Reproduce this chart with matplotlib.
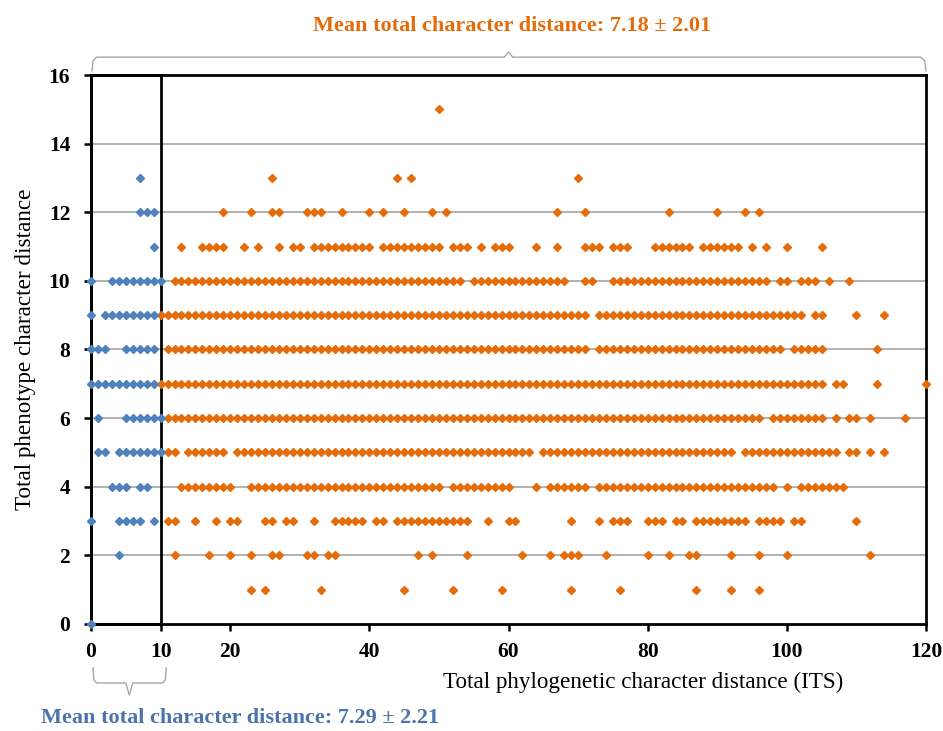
import matplotlib
matplotlib.use("Agg")
import matplotlib.pyplot as plt
from matplotlib.patches import Rectangle

plt.rcParams['font.family'] = ['Liberation Serif', 'DejaVu Serif']

# values: x positions (ITS distance) per phenotype level,
# consecutive runs written as (first, last)
orange_y15 = [50]
orange_y13 = [26, 44, 46, 70]
orange_y12 = [19, 23, 26, 27, 31, 32, 33, 36, 40, 42, 45, 49, 51, 67, 71, 83, 90, 94, 96]
orange_y11 = [13, (16, 19), 22, 24, 27, 29, 30, (32, 40), (42, 50), (52, 54), 56, (58, 60), 64, 67,
              (71, 73), (75, 77), (81, 86), (88, 93), 95, 97, 100, 105]
orange_y10 = [(12, 53), (55, 68), 71, 72, (75, 97), 99, 100, (102, 104), 106, 109]
orange_y9 = [(10, 71), (73, 102), 104, 105, 110, 114]
orange_y8 = [(11, 71), (73, 99), (101, 105), 113]
orange_y7 = [(10, 105), 107, 108, 113, 120]
orange_y6 = [(11, 96), (98, 105), 107, 109, 110, 112, 117]
orange_y5 = [11, 12, (14, 19), (21, 63), (65, 92), (94, 107), 109, 110, 112, 114]
orange_y4 = [(13, 20), (23, 50), (52, 60), 64, (66, 71), (73, 98), 100, (102, 108)]
orange_y3 = [11, 12, 15, 18, 20, 21, 25, 26, 28, 29, 32, (35, 39), 41, 42, (44, 54), 57, 60, 61, 69, 73,
             (75, 77), (80, 82), 84, 85, (87, 94), (96, 99), 101, 102, 110]
orange_y2 = [12, 17, 20, 23, 26, 27, 31, 32, 34, 35, 47, 49, 54, 62, 66, 68, 69, 70, 74, 80, 83, 86, 87,
             92, 96, 100, 112]
orange_y1 = [23, 25, 33, 45, 52, 59, 69, 76, 87, 92, 96]

blue_y13 = [7]
blue_y12 = [7, 8, 9]
blue_y11 = [9]
blue_y10 = [0, (3, 10)]
blue_y9 = [0, (2, 9)]
blue_y8 = [0, 1, 2, (5, 9)]
blue_y7 = [(0, 9)]
blue_y6 = [1, (5, 10)]
blue_y5 = [1, 2, (4, 10)]
blue_y4 = [3, 4, 5, 7, 8]
blue_y3 = [0, 4, 5, 6, 7, 9]
blue_y2 = [4]
blue_y0 = [0]

orange_rows = {15: orange_y15, 13: orange_y13, 12: orange_y12, 11: orange_y11, 10: orange_y10,
               9: orange_y9, 8: orange_y8, 7: orange_y7, 6: orange_y6, 5: orange_y5,
               4: orange_y4, 3: orange_y3, 2: orange_y2, 1: orange_y1}
blue_rows = {13: blue_y13, 12: blue_y12, 11: blue_y11, 10: blue_y10, 9: blue_y9, 8: blue_y8,
             7: blue_y7, 6: blue_y6, 5: blue_y5, 4: blue_y4, 3: blue_y3, 2: blue_y2, 0: blue_y0}

x_ticks = [0, 10, 20, 40, 60, 80, 100, 120]
y_ticks = [0, 2, 4, 6, 8, 10, 12, 14, 16]

ORANGE = '#E46C0A'
BLUE = '#4F81BD'


def expand(rows):
    """Turn {y: [x or (x0, x1)]} into flat x, y lists."""
    xs, ys = [], []
    for y, items in rows.items():
        for it in items:
            if isinstance(it, tuple):
                vals = range(it[0], it[1] + 1)
            else:
                vals = [it]
            for v in vals:
                xs.append(v)
                ys.append(y)
    return xs, ys


fig = plt.figure(figsize=(9.43, 7.31), dpi=100)
ax = fig.add_axes([0.0965, 0.1464, 0.8855, 0.751])

ax.set_xlim(0, 120)
ax.set_ylim(0, 16)

# grid
for yv in y_ticks[1:]:
    ax.axhline(yv, color='#A6A6A6', lw=1.2, zorder=1)

# box around the 0-10 region
ax.add_patch(Rectangle((0, 0), 10, 16, fill=False, ec='black', lw=2, zorder=2, clip_on=False))

ox, oy = expand(orange_rows)
bx, by = expand(blue_rows)
ax.plot(ox, oy, ls='none', marker='D', ms=3.6, color=ORANGE, mec=ORANGE, zorder=3, clip_on=False)
ax.plot(bx, by, ls='none', marker='D', ms=4.2, color=BLUE, mec=BLUE, zorder=4, clip_on=False)

for s in ax.spines.values():
    s.set_color('black')
    s.set_linewidth(2)

ax.set_xticks(x_ticks)
ax.set_yticks(y_ticks)
ax.tick_params(direction='out', length=5, width=1.8, pad=8, labelsize=15.5)
ax.tick_params(axis='y', pad=10)
for lab in ax.get_xticklabels() + ax.get_yticklabels():
    lab.set_fontweight('bold')

ax.set_ylabel('Total phenotype character distance', fontsize=16.7, labelpad=9)
ax.set_xlabel('Total phylogenetic character distance (ITS)', fontsize=16.7)
ax.xaxis.set_label_coords(0.661, -0.088)

# braces
brace_col = '#A6A6A6'
ax.plot([0.15, 0.3, 0.8, 59.4, 60, 60.6, 119.2, 119.8, 120],
        [16.12, 16.42, 16.52, 16.52, 16.67, 16.52, 16.52, 16.42, 16.12],
        color=brace_col, lw=1, clip_on=False)
ax.plot([0.3, 0.4, 0.8, 5.0, 5.5, 6.0, 10.3, 10.7, 10.8],
        [-1.28, -1.62, -1.72, -1.72, -2.07, -1.72, -1.72, -1.62, -1.28],
        color=brace_col, lw=1, clip_on=False)

fig.text(0.543, 0.964, 'Mean total character distance: 7.18 \u00b1 2.01', color=ORANGE,
         fontsize=16, fontweight='bold', ha='center', va='center')
fig.text(0.255, 0.018, 'Mean total character distance: 7.29 \u00b1 2.21', color='#4A74AA',
         fontsize=16, fontweight='bold', ha='center', va='center')

fig.savefig('out.png', dpi=100)
